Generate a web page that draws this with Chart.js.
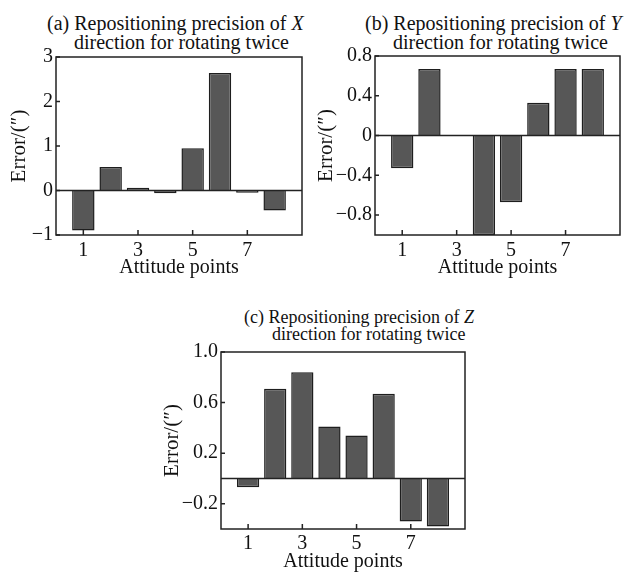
<!DOCTYPE html>
<html><head><meta charset="utf-8">
<script src="https://cdn.jsdelivr.net/npm/chart.js@4.4.0/dist/chart.umd.min.js"></script>
<style>
body{margin:0;background:#fff;width:630px;height:572px;position:relative;overflow:hidden;font-family:"Liberation Serif","Times New Roman",serif;color:#111}
.box{position:absolute}
.t{position:absolute;white-space:nowrap;line-height:1}
</style></head><body>
<div class="t" style="left:47px;top:13px;font-size:20px">(a) Repositioning precision of <i>X</i></div>
<div class="t" style="left:74px;top:32px;font-size:20px">direction for rotating twice</div>
<div class="t" style="left:365px;top:13px;font-size:20px">(b) Repositioning precision of <i>Y</i></div>
<div class="t" style="left:393px;top:32px;font-size:20px">direction for rotating twice</div>
<div class="t" style="left:244px;top:308px;font-size:18px">(c) Repositioning precision of <i>Z</i></div>
<div class="t" style="left:272px;top:325px;font-size:18px">direction for rotating twice</div>
<div class="box" style="left:0;top:0;width:315px;height:285px"><canvas id="ca"></canvas></div>
<div class="box" style="left:315px;top:0;width:315px;height:285px"><canvas id="cb"></canvas></div>
<div class="box" style="left:160px;top:290px;width:320px;height:282px"><canvas id="cc"></canvas></div>
<script>
const attitudePoints = [1, 2, 3, 4, 5, 6, 7, 8];
const errorX = [-0.90, 0.53, 0.06, -0.06, 0.95, 2.64, -0.05, -0.45];
const errorY = [-0.33, 0.67, 0, -1.0, -0.67, 0.33, 0.67, 0.67];
const errorZ = [-0.07, 0.71, 0.84, 0.41, 0.34, 0.67, -0.34, -0.38];
const xTickValues = [1, 3, 5, 7];
const yTicksX = [-1, 0, 1, 2, 3];
const yLabelsX = ['\u22121', '0', '1', '2', '3'];
const yTicksY = [-0.8, -0.4, 0, 0.4, 0.8];
const yLabelsY = ['\u22120.8', '\u22120.4', '0', '0.4', '0.8'];
const yTicksZ = [-0.2, 0.2, 0.6, 1.0];
const yLabelsZ = ['\u22120.2', '0.2', '0.6', '1.0'];
const xTitle = 'Attitude points';
const yTitle = 'Error/(\u2033)';

const INK = '#111';
const framePlugin = {
  id: 'frame',
  afterDatasetsDraw(chart) {
    const {ctx, chartArea: {left, right, top, bottom}, scales: {x, y}} = chart;
    ctx.save();
    ctx.strokeStyle = '#222';
    ctx.lineWidth = 1.5;
    const y0 = y.getPixelForValue(0);
    ctx.beginPath(); ctx.moveTo(left, y0); ctx.lineTo(right, y0); ctx.stroke();
    ctx.strokeRect(left, top, right - left, bottom - top);
    ctx.beginPath();
    x.ticks.forEach(t => { const px = x.getPixelForValue(t.value); ctx.moveTo(px, bottom); ctx.lineTo(px, bottom - 5); });
    y.ticks.forEach(t => { const py = y.getPixelForValue(t.value); ctx.moveTo(left, py); ctx.lineTo(left + 4, py); });
    ctx.stroke();
    ctx.restore();
  }
};

function makeChart(id, values, yMin, yMax, yTicks, yLabels, geo) {
  new Chart(document.getElementById(id), {
    type: 'bar',
    data: {
      datasets: [{
        data: attitudePoints.map((p, i) => ({x: p, y: values[i]})),
        backgroundColor: '#575757',
        borderColor: '#1e1e1e',
        borderWidth: 1.5,
        barPercentage: 1,
        categoryPercentage: 0.82
      }]
    },
    options: {
      responsive: true,
      maintainAspectRatio: false,
      animation: false,
      layout: {padding: {top: geo.top, right: geo.right, left: 0, bottom: 0}},
      plugins: {legend: {display: false}, tooltip: {enabled: false}},
      scales: {
        x: {
          type: 'linear', min: 0, max: 9, offset: false,
          grid: {display: false, drawTicks: false},
          border: {display: false},
          afterBuildTicks: s => { s.ticks = xTickValues.map(v => ({value: v})); },
          afterFit: s => { s.height = geo.xh; },
          ticks: {color: INK, padding: geo.xpad, font: {family: 'Liberation Serif', size: 20}, maxRotation: 0, autoSkip: false,
                  callback: v => String(v)},
          title: {display: true, text: xTitle, color: INK, font: {family: 'Liberation Serif', size: 20, lineHeight: 1},
                  padding: {top: 0, bottom: geo.xtb}}
        },
        y: {
          min: yMin, max: yMax,
          grid: {display: false, drawTicks: false},
          border: {display: false},
          afterBuildTicks: s => { s.ticks = yTicks.map(v => ({value: v})); },
          afterFit: s => { s.width = geo.yw; },
          ticks: {color: INK, padding: 3, font: {family: 'Liberation Serif', size: 20}, autoSkip: false,
                  callback: (v, i) => yLabels[i]},
          title: {display: true, text: yTitle, color: INK, font: {family: 'Liberation Serif', size: 21, lineHeight: 1},
                  padding: {top: geo.ytp, bottom: 0}}
        }
      }
    },
    plugins: [framePlugin]
  });
}

makeChart('ca', errorX, -1, 3, yTicksX, yLabelsX, {top: 57, right: 13, xh: 50, yw: 56, xpad: 4, xtb: 7, ytp: 9});
makeChart('cb', errorY, -1, 0.8, yTicksY, yLabelsY, {top: 56, right: 10, xh: 50, yw: 60, xpad: 4, xtb: 7, ytp: 1});
makeChart('cc', errorZ, -0.4, 1.0, yTicksZ, yLabelsZ, {top: 62, right: 15, xh: 43, yw: 61, xpad: 3, xtb: 0, ytp: 2});
</script>
</body></html>
